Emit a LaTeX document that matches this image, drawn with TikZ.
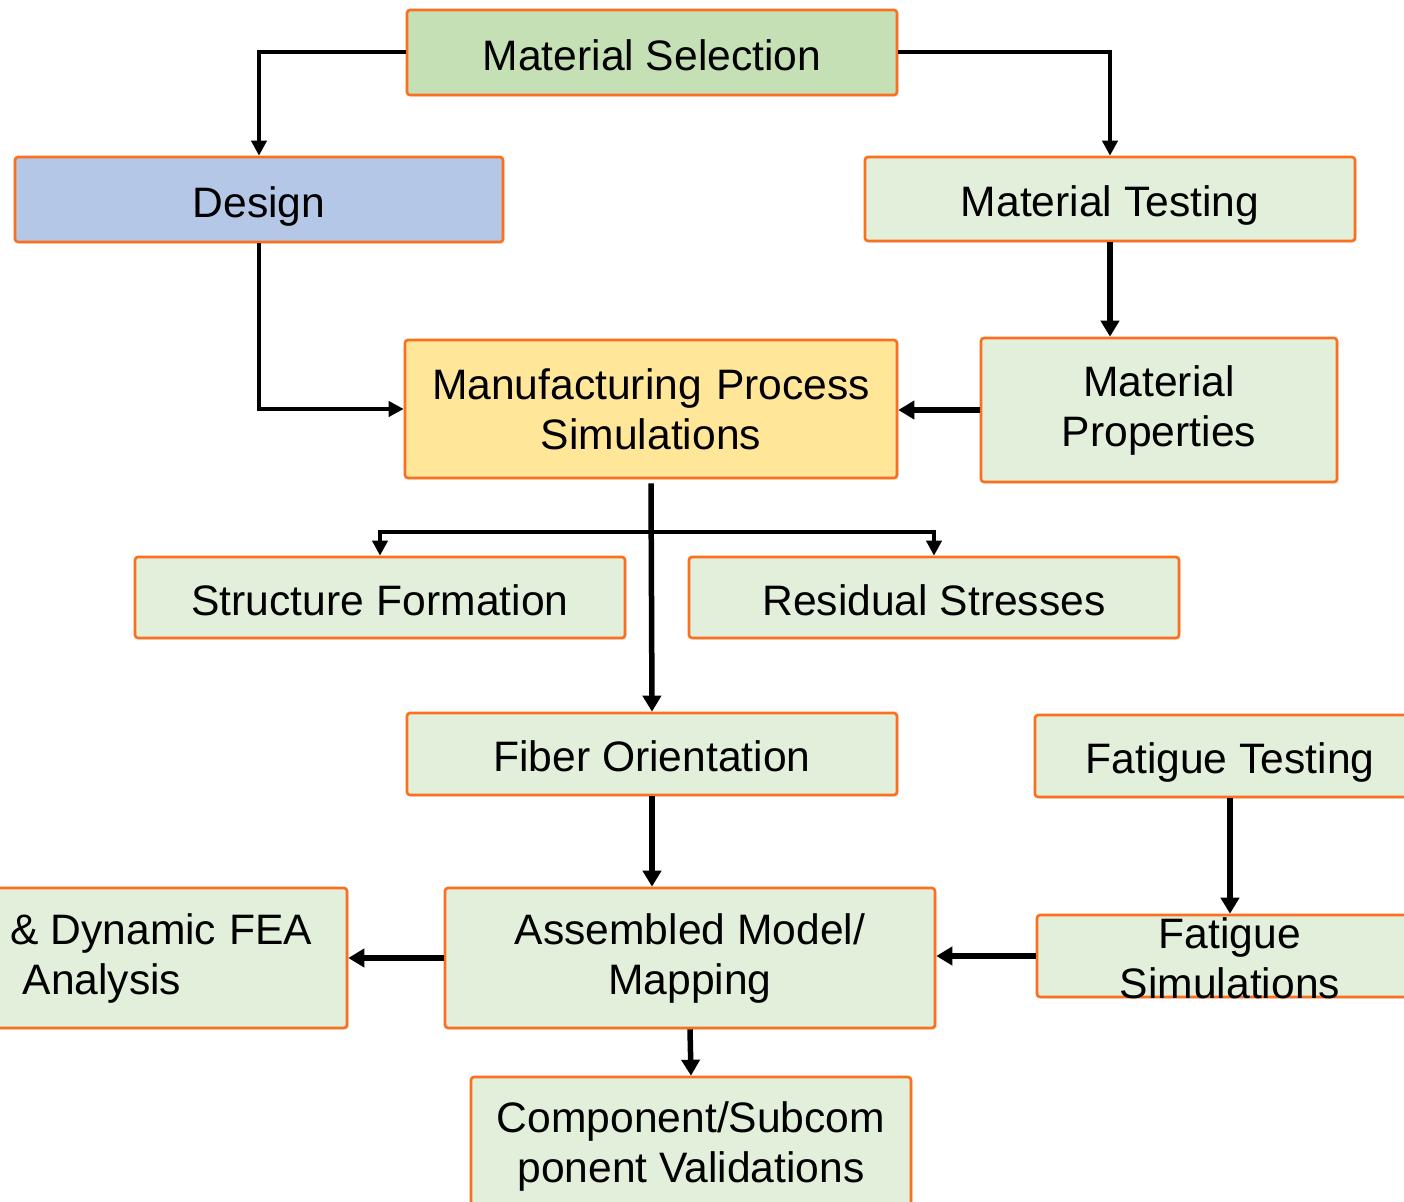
\documentclass[tikz,border=0pt]{standalone}
\usepackage{fontspec}
\setmainfont{Liberation Sans}
\usetikzlibrary{arrows.meta,calc,shadows}
\definecolor{borderor}{RGB}{250,112,30}
\definecolor{selgreen}{HTML}{C5E0B4}
\definecolor{lightgreen}{HTML}{E2EFDA}
\definecolor{designblue}{HTML}{B4C7E7}
\definecolor{mpsyellow}{HTML}{FFE699}
\tikzset{
  box/.style={draw=borderor, line width=1.3pt, rounded corners=1.5pt, fill=lightgreen,
    inner sep=0pt, align=center, font=\fontsize{21.3pt}{25pt}\selectfont,
    drop shadow={opacity=0.18, shadow xshift=0.8pt, shadow yshift=-0.8pt}},
  single/.style={text height=17.9pt, text depth=0pt},
  thinarr/.style={line width=2pt, -{Triangle[length=7.5pt,width=7.5pt]}},
  thickarr/.style={line width=2.75pt, -{Triangle[length=8pt,width=9pt]}}
}
\begin{document}
\begin{tikzpicture}[x=0.5pt,y=-0.5pt]
\useasboundingbox (0,0) rectangle (1404,1202);
\clip (0,0) rectangle (1404,1202);
\fill[white] (0,0) rectangle (1404,1202);

% nodes
\node[box, single, fill=selgreen, minimum width=245pt, minimum height=42.5pt] (msel) at (652,52.5) {Material Selection};
\node[box, single, fill=designblue, minimum width=244pt, minimum height=42.5pt] (design) at (259,199.5) {Design};
\node[box, single, minimum width=245pt, minimum height=42pt] (mtest) at (1110,199) {Material Testing};
\node[box, fill=mpsyellow, minimum width=246pt, minimum height=69pt] (mps) at (651,409) {Manufacturing\hspace{0.33em}Process\\Simulations};
\node[box, minimum width=178pt, minimum height=72pt] (mprop) at (1159,410) {Material\\Properties};
\node[box, single, minimum width=245pt, minimum height=40.5pt] (sform) at (380,597.5) {Structure\hspace{0.3em}Formation};
\node[box, single, minimum width=245pt, minimum height=40.5pt] (rstress) at (934,597.5) {Residual Stresses};
\node[box, single, minimum width=245pt, minimum height=41pt] (fiber) at (652,754) {Fiber Orientation};
\node[box, single, minimum width=195pt, minimum height=41pt] (ftest) at (1230,756) {Fatigue Testing};
\node[box, minimum width=245pt, minimum height=70pt] (asm) at (690,958) {Assembled Model/\\Mapping};
\node[box, minimum width=193pt, minimum height=41pt,
  label={[align=center, inner sep=0pt, yshift=-1pt, font=\fontsize{21.3pt}{25pt}\selectfont]center:Fatigue\\Simulations}] (fsim) at (1230,956) {};
\node[box, minimum width=245pt, minimum height=70pt] (fea) at (102,958) {Static \& Dynamic\hspace{0.3em}FEA\\Analysis};
\node[box, minimum width=220pt, minimum height=69pt] (comp) at (691,1146) {Component/Subcom\\ponent Validations};

% connectors
\coordinate (br) at (651,532);
\draw[thinarr] (msel.west) -| (design.north);
\draw[thinarr] (msel.east) -| (mtest.north);
\draw[thinarr] (design.south) |- (mps.west);
\draw[thickarr] (mtest.south) -- (mtest.south |- mprop.north);
\draw[thickarr] (mprop.west) -- (mprop.west -| mps.east);
\draw[thickarr] ($(mps.south)+(0,4)$) -- (fiber.north);
\draw[thinarr] (br) -| (sform.north);
\draw[thinarr] (br) -| (rstress.north);
\draw[thickarr] (fiber.south) -- (fiber.south |- asm.north);
\draw[thickarr] (ftest.south) -- (fsim.north);
\draw[thickarr] (fsim.west) -- (fsim.west -| asm.east);
\draw[thickarr] (asm.west) -- (asm.west -| fea.east);
\draw[thickarr] (asm.south) -- (comp.north);
\end{tikzpicture}
\end{document}
